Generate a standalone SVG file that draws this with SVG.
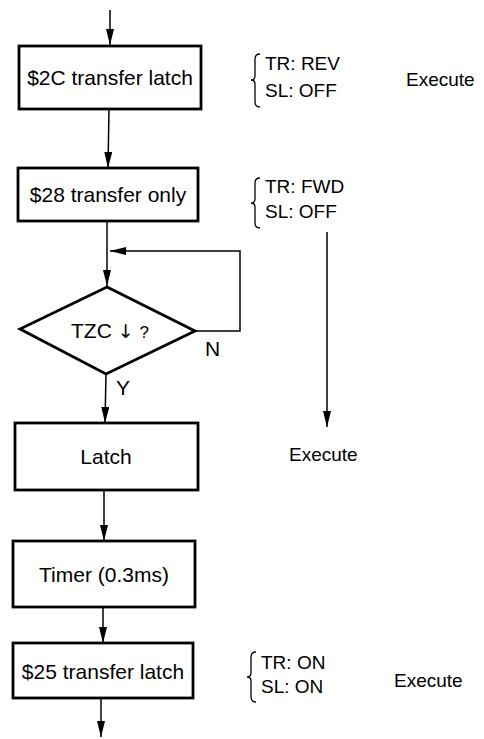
<svg xmlns="http://www.w3.org/2000/svg" width="484" height="739" viewBox="0 0 484 739">
<defs>
<marker id="ah" markerWidth="16" markerHeight="8" refX="16" refY="4" orient="auto" markerUnits="userSpaceOnUse" viewBox="0 0 16 8">
<path d="M0,0 L16,4 L0,8 z" fill="#000"/>
</marker>
<style>
.box{fill:#fff;stroke:#000;stroke-width:2.8}
.ln{fill:none;stroke:#000;stroke-width:1.5}
.t{font-family:"Liberation Sans",Arial,sans-serif;font-size:21px;fill:#000}
.s{font-family:"Liberation Sans",Arial,sans-serif;font-size:19px;fill:#000}
.br{fill:none;stroke:#000;stroke-width:1.3}
.sym{font-family:"DejaVu Sans",sans-serif}
</style>
</defs>
<rect width="484" height="739" fill="#fff"/>
<g id="connectors">
<line class="ln" x1="110" y1="10" x2="110" y2="45" marker-end="url(#ah)"/>
<line class="ln" x1="109" y1="109" x2="108" y2="168" marker-end="url(#ah)"/>
<line class="ln" x1="107" y1="221" x2="107" y2="286" marker-end="url(#ah)"/>
<polyline class="ln" points="195,331 240,331 240,251 110,251" marker-end="url(#ah)"/>
<line class="ln" x1="106" y1="374" x2="105" y2="423" marker-end="url(#ah)"/>
<line class="ln" x1="104" y1="490" x2="104" y2="541" marker-end="url(#ah)"/>
<line class="ln" x1="103" y1="607" x2="103" y2="643" marker-end="url(#ah)"/>
<line class="ln" x1="101" y1="698" x2="101" y2="737" marker-end="url(#ah)"/>
<line class="ln" x1="327" y1="232" x2="327" y2="427" marker-end="url(#ah)"/>
</g>
<g id="n1">
<rect class="box" x="19" y="46" width="182" height="63"/>
<text class="t" x="110" y="85" text-anchor="middle">$2C transfer latch</text>
</g>
<g id="n2">
<rect class="box" x="18" y="168" width="180" height="53"/>
<text class="t" x="108" y="202" text-anchor="middle">$28 transfer only</text>
</g>
<g id="n3">
<polygon class="box" points="107,287 195,331 106,374 20,329" stroke-width="3"/>
<text class="t" x="110" y="338" text-anchor="middle">TZC <tspan class="sym" font-size="19">↓</tspan> <tspan font-size="17">?</tspan></text>
<text class="t" x="205" y="356">N</text>
<text class="t" x="116" y="395">Y</text>
</g>
<g id="n4">
<rect class="box" x="15" y="423" width="183" height="67"/>
<text class="t" x="106" y="464" text-anchor="middle">Latch</text>
</g>
<g id="n5">
<rect class="box" x="13" y="541" width="182" height="66"/>
<text class="t" x="104" y="582" text-anchor="middle">Timer (0.3ms)</text>
</g>
<g id="n6">
<rect class="box" x="13" y="643" width="180" height="55"/>
<text class="t" x="103" y="679" text-anchor="middle">$25 transfer latch</text>
</g>
<g id="note1">
<path class="br" d="M260,54 Q255,54 255,59 L255,76 Q255,80 251,80 Q255,80 255,84 L255,102 Q255,107 260,107"/>
<text class="s" x="265" y="70">TR: REV</text>
<text class="s" x="265" y="97">SL: OFF</text>
<text class="s" x="406" y="86">Execute</text>
</g>
<g id="note2">
<path class="br" d="M260,178 Q255,178 255,183 L255,199 Q255,203 251,203 Q255,203 255,207 L255,223 Q255,228 260,228"/>
<text class="s" x="265" y="193">TR: FWD</text>
<text class="s" x="265" y="218">SL: OFF</text>
<text class="s" x="289" y="461">Execute</text>
</g>
<g id="note3">
<path class="br" d="M256,652 Q251,652 251,657 L251,673 Q251,677 247,677 Q251,677 251,681 L251,697 Q251,702 256,702"/>
<text class="s" x="261" y="669">TR: ON</text>
<text class="s" x="261" y="693">SL: ON</text>
<text class="s" x="394" y="687">Execute</text>
</g>
</svg>
